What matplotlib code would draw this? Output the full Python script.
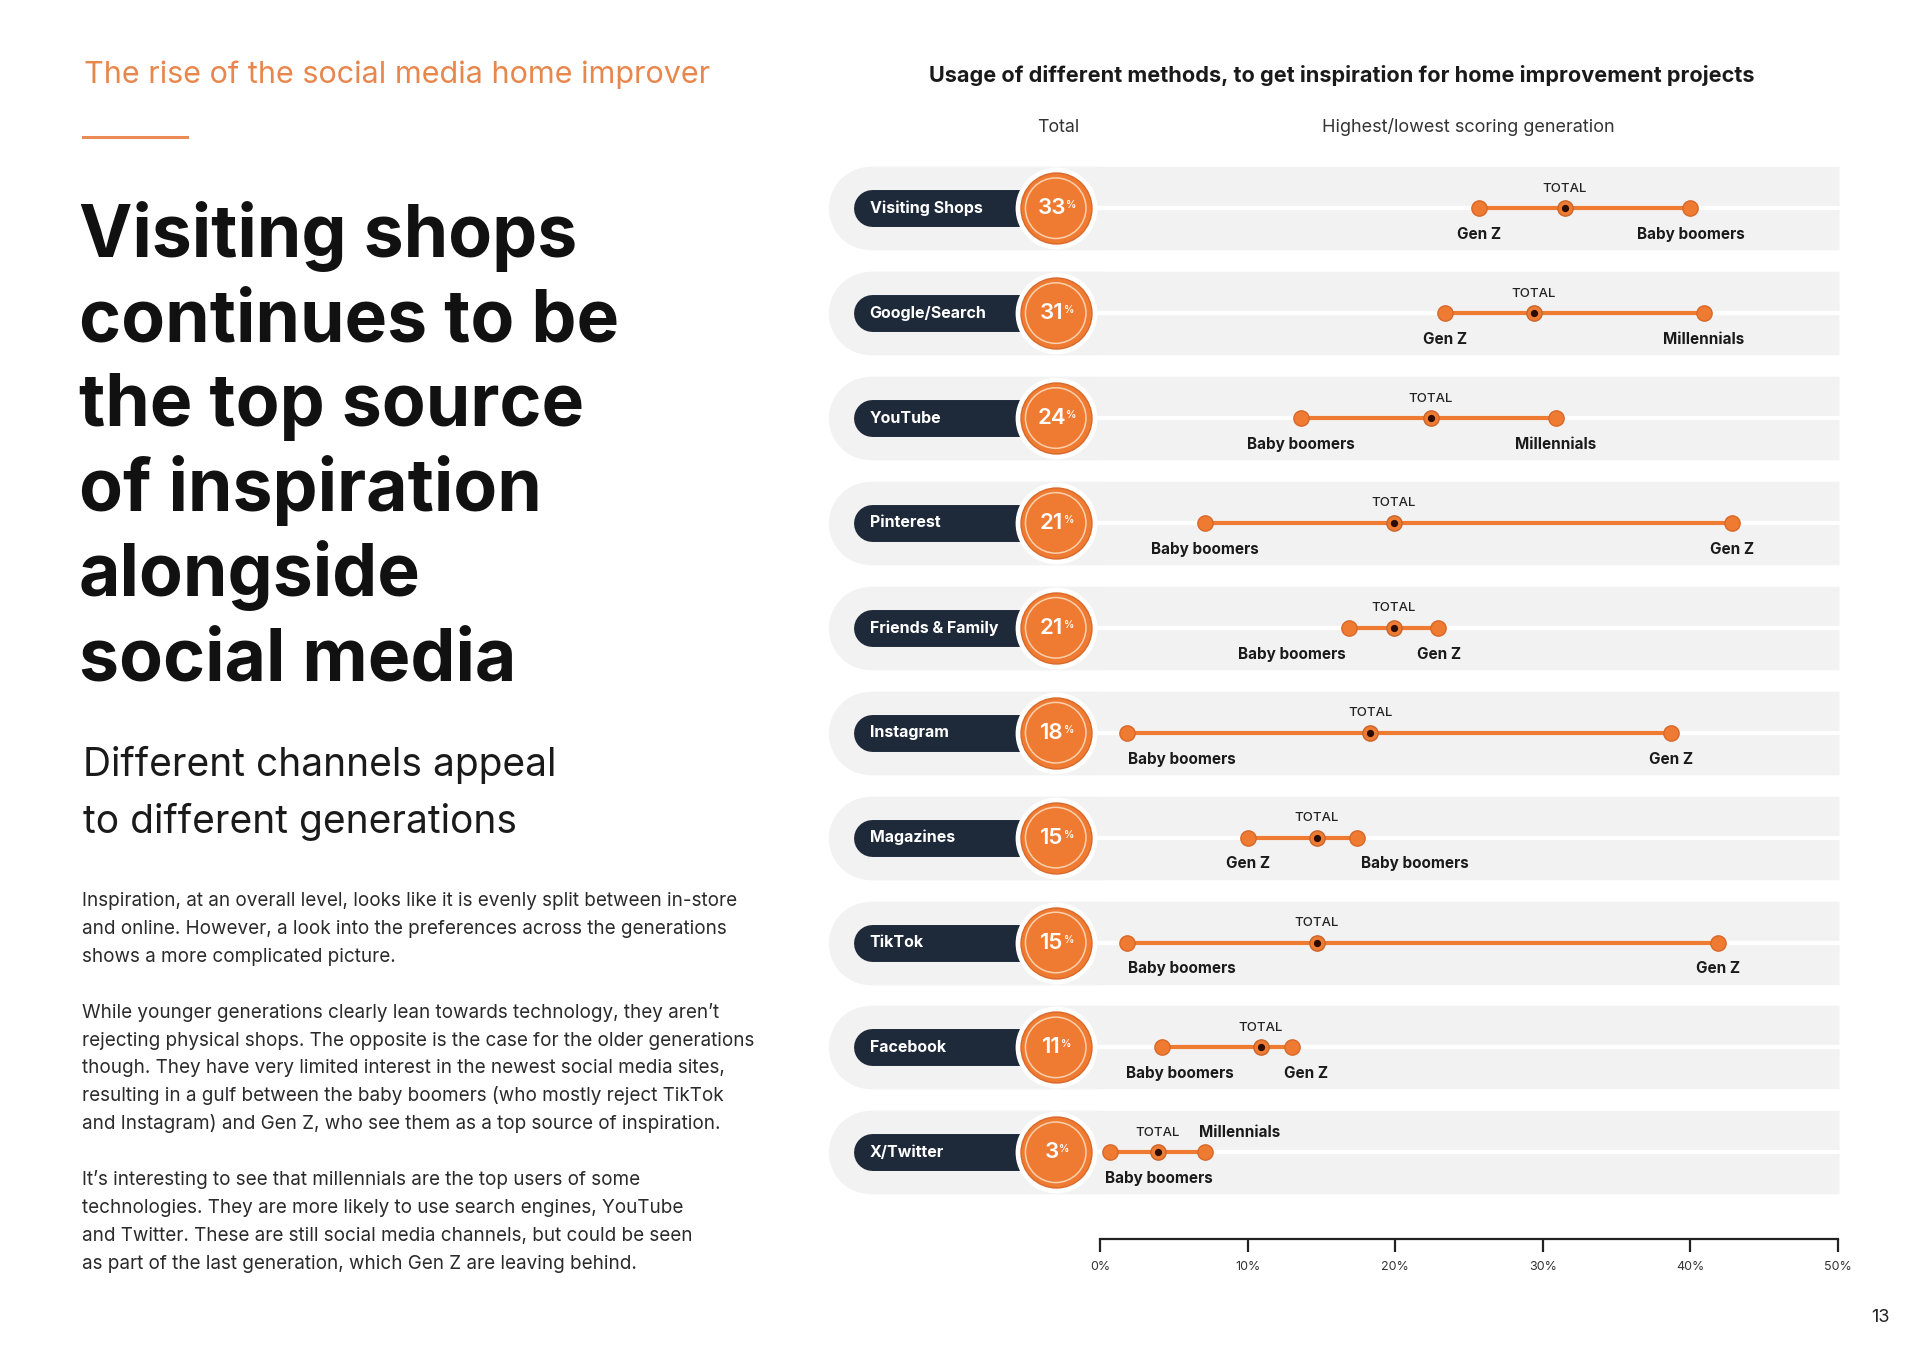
import numpy as np
import matplotlib.pyplot as plt

plt.rcParams['font.family'] = ['Inter', 'DejaVu Sans']

# Data (percent)
channels = ["Visiting Shops", "Google/Search", "YouTube", "Pinterest", "Friends & Family",
            "Instagram", "Magazines", "TikTok", "Facebook", "X/Twitter"]
total_label = [33, 31, 24, 21, 21, 18, 15, 15, 11, 3]
total_dot = [31.5, 29.4, 22.4, 19.9, 19.9, 18.3, 14.7, 14.7, 10.9, 3.9]
low_value = [25.7, 23.4, 13.6, 7.1, 16.9, 1.8, 10.0, 1.8, 4.2, 0.7]
low_gen = ["Gen Z", "Gen Z", "Baby boomers", "Baby boomers", "Baby boomers",
           "Baby boomers", "Gen Z", "Baby boomers", "Baby boomers", "Baby boomers"]
high_value = [40.0, 40.9, 30.9, 42.8, 22.9, 38.7, 17.4, 41.9, 13.0, 7.1]
high_gen = ["Baby boomers", "Millennials", "Millennials", "Gen Z", "Gen Z",
            "Gen Z", "Baby boomers", "Gen Z", "Gen Z", "Millennials"]
axis_ticks = [0, 10, 20, 30, 40, 50]

# label placement (ha, dx, dy in points)
low_pos = [("center", 0, -19), ("center", 0, -19), ("center", 0, -19), ("center", 0, -19),
           ("right", -3, -19), ("left", 1, -19), ("center", 0, -19), ("left", 1, -19),
           ("center", 13, -19), ("left", -4, -19)]
high_pos = [("center", 0, -19), ("center", 0, -19), ("center", 0, -19), ("center", 0, -19),
            ("center", 1, -19), ("center", 0, -19), ("left", 3, -19), ("center", 0, -19),
            ("center", 10, -19), ("left", -4, 14)]

orange = "#ef7b32"
orange_dark = "#d8682a"
navy = "#1e2a39"
band = "#f2f2f2"
text_dark = "#1a1a1a"

fig = plt.figure(figsize=(19.2, 13.58), dpi=100)

# page axes in pixel units for the text blocks
page = fig.add_axes([0, 0, 1, 1])
page.set_xlim(0, 1920)
page.set_ylim(1358, 0)
page.axis("off")

page.text(84, 83, "The rise of the social media home improver", fontsize=22,
          color="#e8874d", va="baseline")
page.plot([83, 187], [137, 137], color="#ec8a55", lw=2.2)

headline = ["Visiting shops", "continues to be", "the top source",
            "of inspiration", "alongside", "social media"]
for k, line in enumerate(headline):
    page.text(79, 257 + k * 84.7, line, fontsize=51.5, fontweight="bold",
              color="#111111", va="baseline")

page.text(83, 776, "Different channels appeal", fontsize=28, color=text_dark, va="baseline")
page.text(83, 833, "to different generations", fontsize=28, color=text_dark, va="baseline")

body = [
    "Inspiration, at an overall level, looks like it is evenly split between in-store",
    "and online. However, a look into the preferences across the generations",
    "shows a more complicated picture.",
    "",
    "While younger generations clearly lean towards technology, they aren\u2019t",
    "rejecting physical shops. The opposite is the case for the older generations",
    "though. They have very limited interest in the newest social media sites,",
    "resulting in a gulf between the baby boomers (who mostly reject TikTok",
    "and Instagram) and Gen Z, who see them as a top source of inspiration.",
    "",
    "It\u2019s interesting to see that millennials are the top users of some",
    "technologies. They are more likely to use search engines, YouTube",
    "and Twitter. These are still social media channels, but could be seen",
    "as part of the last generation, which Gen Z are leaving behind.",
]
for k, line in enumerate(body):
    page.text(82, 906 + k * 27.9, line, fontsize=13.6, color="#2a2a2a", va="baseline")

page.text(1342, 75, "Usage of different methods, to get inspiration for home improvement projects",
          fontsize=15.6, fontweight="bold", color=text_dark, ha="center", va="center")
page.text(1058, 127, "Total", fontsize=12.8, color="#333333", ha="center", va="center")
page.text(1468, 127, "Highest/lowest scoring generation", fontsize=13, color="#333333",
          ha="center", va="center")
page.text(1880, 1318, "13", fontsize=13, color="#222222", ha="center", va="center")

# chart axes: x in percent, one row per channel
px_per_pct = 14.76
x0_px = 1100
xmin, xmax = -18.5, 51
row0_px, row_px = 208.2, 104.9
ymin, ymax = -0.6, (1239 - row0_px) / row_px
left = x0_px + xmin * px_per_pct
right = x0_px + xmax * px_per_pct
top = row0_px + ymin * row_px
ax = fig.add_axes([left / 1920, 1 - 1239 / 1358, (right - left) / 1920, (1239 - top) / 1358])
ax.set_xlim(xmin, xmax)
ax.set_ylim(ymax, ymin)
ax.patch.set_alpha(0)

band_left, band_right = -15.55, 50.1
circle_x = -3.0

for i, name in enumerate(channels):
    # row background and pill
    ax.plot([band_left, 0], [i, i], lw=60, color=band, solid_capstyle="round", zorder=1)
    ax.plot([band_left, band_right], [i, i], lw=60, color=band, solid_capstyle="butt", zorder=1)
    ax.plot([circle_x, band_right], [i, i], lw=3, color="white", zorder=2)
    ax.plot([-15.45, circle_x], [i, i], lw=26.6, color=navy, solid_capstyle="round", zorder=3)
    ax.annotate(name, (-15.6, i), fontsize=11.5, fontweight="bold", color="white",
                ha="left", va="center", zorder=4)

    # total circle
    ax.scatter([circle_x], [i], s=3350, color="white", zorder=4)
    ax.scatter([circle_x], [i], s=2610, color=orange, edgecolors=orange_dark, linewidths=1, zorder=5)
    ax.scatter([circle_x], [i], s=1900, facecolors="none", edgecolors="#fbd0ae", linewidths=1.1, zorder=6)
    num = ax.annotate(str(total_label[i]), (circle_x, i), xytext=(-3, 0), textcoords="offset points",
                      fontsize=16, fontweight="semibold", color="white", ha="center", va="center", zorder=7)
    ax.annotate("%", xy=(1, 0.9), xycoords=num, xytext=(0.3, 0), textcoords="offset points",
                fontsize=7.5, fontweight="semibold", color="white", ha="left", va="top", zorder=7)

    # low / high range with total dot
    lo, hi, tot = low_value[i], high_value[i], total_dot[i]
    ax.plot([lo, hi], [i, i], color=orange, lw=3, zorder=5)
    ax.plot([lo, hi], [i, i], "o", ms=11, mfc=orange, mec=orange_dark, mew=1, zorder=6)
    ax.plot([tot], [i], "o", ms=11, mfc=orange, mec="#c9652c", mew=1, zorder=6)
    ax.plot([tot], [i], "o", ms=4.2, mfc="#2a0e06", mec="#2a0e06", zorder=7)

    ax.annotate("TOTAL", (tot, i), xytext=(0, 14), textcoords="offset points", fontsize=9.5,
                fontweight="medium", color="#222222", ha="center", va="center", zorder=7)
    for val, gen, (ha, dx, dy) in [(lo, low_gen[i], low_pos[i]), (hi, high_gen[i], high_pos[i])]:
        ax.annotate(gen, (val, i), xytext=(dx, dy), textcoords="offset points", fontsize=11,
                    fontweight="bold", color=text_dark, ha=ha, va="center", zorder=7)

# x axis
for s in ["top", "left", "right"]:
    ax.spines[s].set_visible(False)
ax.spines["bottom"].set_bounds(0, 50)
ax.spines["bottom"].set_linewidth(1.6)
ax.spines["bottom"].set_color("#222222")
ax.set_yticks([])
ax.set_xticks(axis_ticks)
ax.set_xticklabels([f"{t}%" for t in axis_ticks])
ax.tick_params(axis="x", direction="out", length=9, width=1.6, pad=7, labelsize=9,
               color="#222222", labelcolor="#333333")

fig.savefig("out.png", dpi=100)
